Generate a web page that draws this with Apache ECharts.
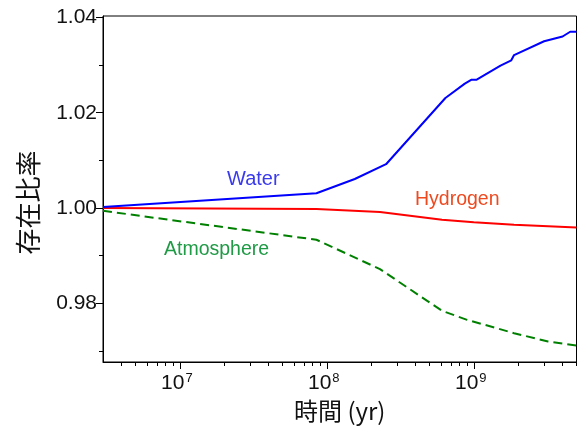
<!DOCTYPE html>
<html>
<head>
<meta charset="utf-8">
<script src="https://cdn.jsdelivr.net/npm/echarts@6/dist/echarts.min.js"></script>
<style>
  html, body { margin: 0; padding: 0; background: #fff; }
  #chart { width: 579px; height: 431px; }
</style>
</head>
<body>
<div id="chart"></div>
<script>
// Time (yr) and abundance ratio for each reservoir
const waterTime = [3e6, 8.5e7, 1.55e8, 2.53e8, 6.41e8, 8.69e8, 9.6e8, 1.04e9, 1.52e9, 1.8e9, 1.88e9, 3.01e9, 4.02e9, 4.53e9, 5e9];
const waterRatio = [1.0002, 1.0031, 1.0061, 1.0092, 1.0231, 1.0261, 1.0269, 1.0269, 1.0299, 1.0310, 1.0321, 1.0350, 1.0360, 1.0370, 1.0370];

const hydrogenTime = [3e6, 8.5e7, 2.3e8, 6.08e8, 1e9, 1.88e9, 5e9];
const hydrogenRatio = [1.0000, 0.9998, 0.99916, 0.99754, 0.9970, 0.9965, 0.9959];

const atmosphereTime = [3e6, 8.5e7, 2.3e8, 6.08e8, 9e8, 1.88e9, 3.2e9, 5e9];
const atmosphereRatio = [0.99943, 0.99335, 0.98719, 0.97844, 0.97655, 0.97375, 0.9720, 0.97116];

// Axis ticks
const xMajorTicks = [1e7, 1e8, 1e9];
const xMinorTicks = [4e6, 5e6, 6e6, 7e6, 8e6, 9e6,
  2e7, 3e7, 4e7, 5e7, 6e7, 7e7, 8e7, 9e7,
  2e8, 3e8, 4e8, 5e8, 6e8, 7e8, 8e8, 9e8,
  2e9, 3e9, 4e9, 5e9];
const yMajorTicks = [0.98, 1.00, 1.02, 1.04];
const yMinorTicks = [0.97, 0.99, 1.01, 1.03];

const xMin = 3e6, xMax = 5e9;
const yMin = 0.9677, yMax = 1.0403;

const latin = "'Liberation Sans', 'Noto Sans CJK JP', sans-serif";
const cjk = "'Noto Sans CJK JP', 'Liberation Sans', sans-serif";

function pairs(xs, ys) { return xs.map((x, i) => [x, ys[i]]); }

const chart = echarts.init(document.getElementById('chart'), null, { renderer: 'canvas' });

const option = {
  animation: false,
  backgroundColor: '#fff',
  grid: {
    left: 103, right: 2.5, top: 16, bottom: 69,
    show: true, borderColor: '#000', borderWidth: 1, backgroundColor: 'transparent'
  },
  xAxis: [
    {
      type: 'log', min: xMin, max: xMax, logBase: 10,
      name: '時間 (yr)', nameLocation: 'middle', nameGap: 35,
      nameTextStyle: { fontFamily: cjk, fontSize: 24, color: '#111' },
      axisLine: { show: true, lineStyle: { color: '#000', width: 1 } },
      axisTick: { show: true, inside: false, length: 7, customValues: xMajorTicks, lineStyle: { color: '#000', width: 1 } },
      axisLabel: {
        customValues: xMajorTicks, margin: 10,
        formatter: v => '{b|10}{s|' + Math.round(Math.log10(v)) + '}',
        rich: {
          b: { fontFamily: latin, fontSize: 21, color: '#111' },
          s: { fontFamily: latin, fontSize: 13, color: '#111', verticalAlign: 'top', padding: [0, 6, 10, 1] }
        }
      },
      splitLine: { show: false }
    },
    {
      type: 'log', min: xMin, max: xMax, logBase: 10, position: 'bottom',
      axisLine: { show: false },
      axisTick: { show: true, inside: false, length: 4, customValues: xMinorTicks, lineStyle: { color: '#000', width: 1 } },
      axisLabel: { show: false },
      splitLine: { show: false }
    }
  ],
  yAxis: [
    {
      type: 'value', min: yMin, max: yMax,
      name: '存在比率', nameLocation: 'middle', nameGap: 62, nameRotate: 90,
      nameTextStyle: { fontFamily: cjk, fontSize: 26, color: '#111', padding: [0, 27, 0, 0] },
      axisLine: { show: true, lineStyle: { color: '#000', width: 1 } },
      axisTick: { show: true, inside: false, length: 7, customValues: yMajorTicks, lineStyle: { color: '#000', width: 1 } },
      axisLabel: {
        customValues: yMajorTicks, margin: 6,
        formatter: v => v.toFixed(2),
        fontFamily: latin, fontSize: 21, color: '#111'
      },
      splitLine: { show: false }
    },
    {
      type: 'value', min: yMin, max: yMax, position: 'left',
      axisLine: { show: false },
      axisTick: { show: true, inside: false, length: 4, customValues: yMinorTicks, lineStyle: { color: '#000', width: 1 } },
      axisLabel: { show: false },
      splitLine: { show: false }
    }
  ],
  series: [
    {
      name: 'Water', type: 'line', xAxisIndex: 0, yAxisIndex: 0,
      data: pairs(waterTime, waterRatio), showSymbol: false, symbol: 'none',
      lineStyle: { color: '#0000ff', width: 2 }, z: 4
    },
    {
      name: 'Hydrogen', type: 'line', xAxisIndex: 0, yAxisIndex: 0,
      data: pairs(hydrogenTime, hydrogenRatio), showSymbol: false, symbol: 'none',
      lineStyle: { color: '#ff0000', width: 2 }, z: 3
    },
    {
      name: 'Atmosphere', type: 'line', xAxisIndex: 0, yAxisIndex: 0,
      data: pairs(atmosphereTime, atmosphereRatio), showSymbol: false, symbol: 'none',
      lineStyle: { color: '#008000', width: 2, type: [9, 5] }, z: 2
    }
  ],
  graphic: [
    { type: 'text', left: 227, top: 169, style: { text: 'Water', fontFamily: latin, fontSize: 20, fill: '#3a3aee' } },
    { type: 'text', left: 415, top: 190, style: { text: 'Hydrogen', fontFamily: latin, fontSize: 19.5, fill: '#ee4a20' } },
    { type: 'text', left: 164, top: 240, style: { text: 'Atmosphere', fontFamily: latin, fontSize: 19.5, fill: '#1f9a45' } }
  ]
};

chart.setOption(option);
</script>
</body>
</html>
